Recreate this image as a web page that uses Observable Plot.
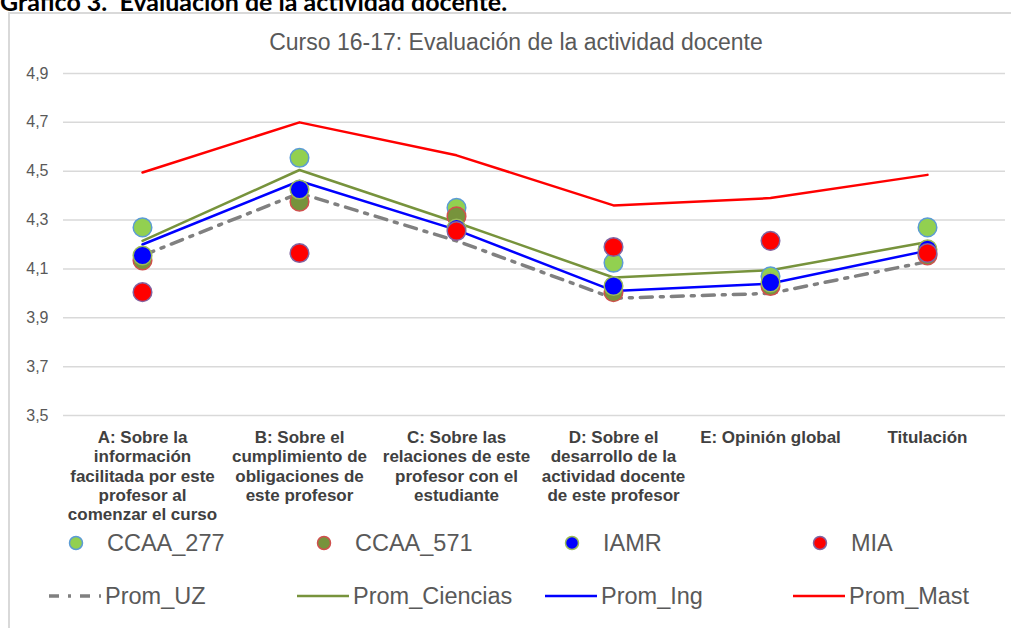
<!DOCTYPE html>
<html><head><meta charset="utf-8">
<script src="https://cdn.jsdelivr.net/npm/d3@7"></script>
<script src="https://cdn.jsdelivr.net/npm/@observablehq/plot@0.6"></script>
<style>
body{margin:0;width:1011px;height:628px;overflow:hidden;position:relative;background:#fff;font-family:"Liberation Sans",Arial,sans-serif;}
#heading{position:absolute;left:0;top:-11px;font:bold 25px Lato,"Noto Sans",sans-serif;color:#000;white-space:pre;line-height:25px}
#frame{position:absolute;left:8px;top:12px;width:1100px;height:700px;border-left:2px solid #d9d9d9;border-top:2px solid #d9d9d9}
#title{position:absolute;left:0;width:1032px;top:29px;text-align:center;font-size:23px;color:#595959;line-height:26px}
#chart{position:absolute;left:0;top:50px}
.leg{position:absolute;display:flex;align-items:center;height:30px;font-size:23.5px;color:#595959;white-space:nowrap}
.leg svg{display:block}
</style></head>
<body>
<div id="heading">Gráfico 3.  Evaluación de la actividad docente.</div>
<div id="frame"></div>
<div id="title">Curso 16-17: Evaluación de la actividad docente</div>
<div id="chart"></div>
<script>
const categories = ["A","B","C","D","E","T"];
const categoryLabels = [
  "A: Sobre la\ninformación\nfacilitada por este\nprofesor al\ncomenzar el curso",
  "B: Sobre el\ncumplimiento de\nobligaciones de\neste profesor",
  "C: Sobre las\nrelaciones de este\nprofesor con el\nestudiante",
  "D: Sobre el\ndesarrollo de la\nactividad docente\nde este profesor",
  "E: Opinión global",
  "Titulación"
];
const yTicks = [3.5, 3.7, 3.9, 4.1, 4.3, 4.5, 4.7, 4.9];

const pointSeries = ["CCAA_277", "CCAA_571", "IAMR", "MIA"];
const ccaa277 = [4.27, 4.555, 4.35, 4.125, 4.07, 4.27];
const ccaa571 = [4.135, 4.375, 4.315, 4.005, 4.03, 4.155];
const iamr    = [4.155, 4.425, 4.265, 4.03, 4.045, 4.18];
const mia     = [4.005, 4.165, 4.255, 4.19, 4.215, 4.165];

const lineSeries = ["Prom_UZ", "Prom_Ciencias", "Prom_Ing", "Prom_Mast"];
const promUZ       = [4.155, 4.41, 4.215, 3.98, 4.0, 4.13];
const promCiencias = [4.215, 4.505, 4.29, 4.065, 4.095, 4.21];
const promIng      = [4.2, 4.46, 4.26, 4.01, 4.04, 4.175];
const promMast     = [4.495, 4.70, 4.565, 4.36, 4.39, 4.485];

const pointValues = [ccaa277, ccaa571, iamr, mia];
const lineValues = [promUZ, promCiencias, promIng, promMast];

const pointStyles = [
  {fill: "#92D050", stroke: "#5B9BD5"},
  {fill: "#77933C", stroke: "#D0504D"},
  {fill: "#0000FF", stroke: "#9BBB59"},
  {fill: "#FF0000", stroke: "#8064A2"}
];
const lineStyles = [
  {stroke: "#808080", strokeWidth: 3.5, strokeDasharray: "12,8,3,8"},
  {stroke: "#77933C", strokeWidth: 2.5},
  {stroke: "#0000FF", strokeWidth: 2.5},
  {stroke: "#FF0000", strokeWidth: 2.5}
];

const toRows = (vals) => categories.map((c, i) => ({cat: c, value: vals[i]}));
const labelOf = new Map(categories.map((c, i) => [c, categoryLabels[i]]));

const marks = [
  Plot.gridY(yTicks, {stroke: "#d9d9d9", strokeOpacity: 1, strokeWidth: 1.5}),
  Plot.axisY(yTicks, {tickSize: 0, tickPadding: 15, tickFormat: d => d.toFixed(1).replace(".", ","), fontSize: 16, fill: "#595959", label: null}),
  Plot.axisX({tickSize: 0, tickPadding: 14, tickFormat: d => labelOf.get(d), fontSize: 17, fontWeight: "bold", fill: "#404040", lineHeight: 1.135, label: null, ariaLabel: "xlabels"})
];
lineValues.forEach((vals, i) => {
  marks.push(Plot.line(toRows(vals), {x: "cat", y: "value", ...lineStyles[i], strokeLinejoin: "round"}));
});
pointValues.forEach((vals, i) => {
  marks.push(Plot.dot(toRows(vals), {x: "cat", y: "value", r: 9.3, fill: pointStyles[i].fill, stroke: pointStyles[i].stroke, strokeWidth: 1.5, fillOpacity: 1}));
});

const chart = Plot.plot({
  width: 1011, height: 480,
  marginLeft: 63, marginRight: 6, marginTop: 23, marginBottom: 115,
  style: {background: "transparent", fontFamily: '"Liberation Sans",Arial,sans-serif'},
  x: {type: "point", domain: categories, padding: 0.5, axis: null},
  y: {domain: [3.5, 4.9], axis: null},
  marks
});
document.getElementById("chart").appendChild(chart);
// condense the category labels horizontally (narrow font look)
d3.select(chart).selectAll('g[aria-label="xlabels"] text').each(function() {
  const t = this.getAttribute("transform") || "";
  this.setAttribute("transform", t + " scale(0.78,1)");
});

// Legend
const body = d3.select("body");
pointSeries.forEach((name, i) => {
  const item = body.append("div").attr("class", "leg")
    .style("left", (49 + i * 248) + "px").style("top", (543 - 15) + "px");
  const svg = item.append("svg").attr("width", 58).attr("height", 30);
  svg.append("circle").attr("cx", 27).attr("cy", 15).attr("r", 6.5)
    .attr("fill", pointStyles[i].fill).attr("stroke", pointStyles[i].stroke).attr("stroke-width", 1.5);
  item.append("span").text(name);
});
lineSeries.forEach((name, i) => {
  const item = body.append("div").attr("class", "leg")
    .style("left", (49 + i * 248) + "px").style("top", (596 - 15) + "px");
  const svg = item.append("svg").attr("width", 56).attr("height", 30);
  svg.append("line").attr("x1", 0).attr("x2", 52).attr("y1", 15).attr("y2", 15)
    .attr("stroke", lineStyles[i].stroke).attr("stroke-width", lineStyles[i].strokeWidth)
    .attr("stroke-dasharray", lineStyles[i].strokeDasharray ? "10,9,3,9" : null);
  item.append("span").text(name);
});
</script>
</body></html>
